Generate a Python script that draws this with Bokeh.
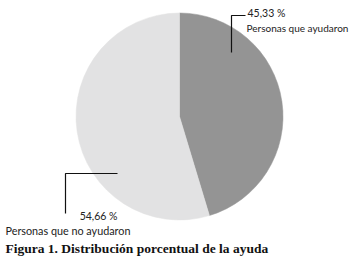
import math
from bokeh.plotting import figure
from bokeh.models import Range1d, ColumnDataSource
from bokeh.core.properties import value
from bokeh.embed import file_html
from bokeh.resources import INLINE

categories = ["Personas que ayudaron", "Personas que no ayudaron"]
percents = [45.33, 54.66]
pct_labels = ["45,33 %", "54,66 %"]
colors = ["#949494", "#e2e2e3"]
caption = "Figura 1. Distribución porcentual de la ayuda"

total = sum(percents)
starts, ends = [], []
a = math.pi / 2
for v in percents:
    starts.append(a)
    a = a - 2 * math.pi * v / total
    ends.append(a)

src = ColumnDataSource(dict(start=starts, end=ends, color=colors, cat=categories))

W, H = 349, 259
p = figure(width=W, height=H, output_backend="svg", toolbar_location=None,
           x_range=Range1d(0, W), y_range=Range1d(0, H),
           min_border=0, outline_line_color=None, background_fill_color="white",
           border_fill_color="white")
p.axis.visible = False
p.grid.visible = False

# page y -> data y
def Y(yp):
    return H - yp

cx, cy, r = 179, Y(116), 103.5
p.wedge(x=cx, y=cy, radius=r, start_angle="start", end_angle="end", direction="clock",
        fill_color="color", line_color="color", line_width=0.5, source=src)

# leader lines
p.line(x=[231, 231, 245], y=[Y(52), Y(15), Y(15)], line_color="#111111", line_width=1.2)
p.line(x=[117, 65, 65], y=[Y(173), Y(173), Y(213)], line_color="#111111", line_width=1.2)

font = value("Lato")
p.text(x=[247], y=[Y(12)], text=[pct_labels[0]], text_font=font, text_font_size="10.5px",
       text_color="#222222", text_baseline="alphabetic", text_align="left")
p.text(x=[246], y=[Y(27)], text=[categories[0]], text_font=font, text_font_size="10px",
       text_color="#222222", text_baseline="alphabetic", text_align="left")
p.text(x=[117], y=[Y(215)], text=[pct_labels[1]], text_font=font, text_font_size="10.5px",
       text_color="#222222", text_baseline="alphabetic", text_align="right")
p.text(x=[5], y=[Y(230)], text=[categories[1]], text_font=font, text_font_size="10.8px",
       text_color="#222222", text_baseline="alphabetic", text_align="left")
p.text(x=[5], y=[Y(248)], text=[caption], text_font=value("Liberation Serif"),
       text_font_size="13.5px", text_font_style="bold",
       text_color="#111111", text_baseline="alphabetic", text_align="left")

open("out.html", "w").write(file_html(p, INLINE))
